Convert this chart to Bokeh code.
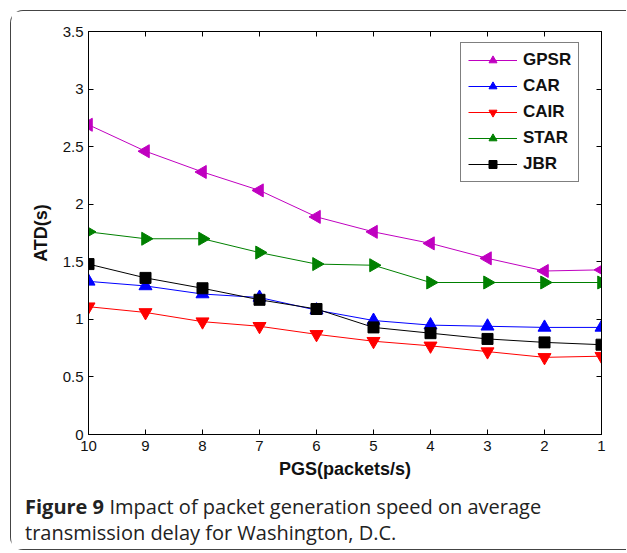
import math
from bokeh.plotting import figure
from bokeh.layouts import column
from bokeh.models import (Range1d, FixedTicker, LinearAxis, Legend, LegendItem, Label,
                          CustomJSTickFormatter)
from bokeh.embed import file_html
from bokeh.resources import INLINE

pgs = [10, 9, 8, 7, 6, 5, 4, 3, 2, 1]
gpsr = [2.69, 2.46, 2.28, 2.12, 1.89, 1.76, 1.66, 1.53, 1.42, 1.43]
car = [1.33, 1.29, 1.22, 1.19, 1.08, 0.99, 0.95, 0.94, 0.93, 0.93]
cair = [1.11, 1.06, 0.98, 0.94, 0.87, 0.81, 0.77, 0.72, 0.67, 0.68]
star = [1.76, 1.70, 1.70, 1.58, 1.48, 1.47, 1.32, 1.32, 1.32, 1.32]
jbr = [1.48, 1.36, 1.27, 1.17, 1.09, 0.93, 0.88, 0.83, 0.80, 0.78]

x_ticks = [10, 9, 8, 7, 6, 5, 4, 3, 2, 1]
y_ticks = [0, 0.5, 1, 1.5, 2, 2.5, 3, 3.5]
y_tick_labels = ["0", "0.5", "1", "1.5", "2", "2.5", "3", "3.5"]
caption_bold = "Figure 9"
caption_line1 = "Impact of packet generation speed on average"
caption_line2 = "transmission delay for Washington, D.C."

p = figure(width=615, height=470, output_backend="svg", toolbar_location=None,
           x_range=Range1d(10, 1), y_range=Range1d(0, 3.5),
           min_border_left=77, min_border_right=25, min_border_top=20, min_border_bottom=47)
p.frame_align = False
p.xgrid.visible = False
p.ygrid.visible = False
p.outline_line_color = "black"
p.outline_line_width = 1

FONT = "Liberation Sans"

def style_axis(ax, labels=True):
    ax.axis_line_color = "black"
    ax.major_tick_line_color = "black"
    ax.major_tick_in = 5
    ax.major_tick_out = 0
    ax.minor_tick_line_color = None
    ax.major_label_text_font = FONT
    ax.major_label_text_font_size = "15px"
    ax.major_label_text_color = "#111111"
    ax.axis_label_text_font = FONT
    ax.axis_label_text_font_size = "18px"
    ax.axis_label_text_font_style = "bold"
    ax.axis_label_text_color = "#111111"
    if not labels:
        ax.formatter = CustomJSTickFormatter(code="return ''")
        ax.major_label_standoff = 0

xa = p.xaxis[0]
xa.ticker = FixedTicker(ticks=x_ticks)
xa.axis_label = "PGS(packets/s)"
style_axis(xa)
xa.major_label_standoff = 6
xa.axis_label_standoff = 5

ya = p.yaxis[0]
ya.ticker = FixedTicker(ticks=y_ticks)
ya.major_label_overrides = {t: l for t, l in zip(y_ticks, y_tick_labels)}
ya.axis_label = "ATD(s)"
style_axis(ya)
ya.major_label_standoff = 5
ya.axis_label_standoff = 9

top = LinearAxis(ticker=FixedTicker(ticks=x_ticks))
style_axis(top, labels=False)
p.add_layout(top, "above")
right = LinearAxis(ticker=FixedTicker(ticks=y_ticks))
style_axis(right, labels=False)
p.add_layout(right, "right")

series = [
    ("GPSR", gpsr, "#c000c0", "triangle", math.pi / 2),
    ("CAR", car, "#0000ff", "triangle", 0),
    ("CAIR", cair, "#ff0000", "inverted_triangle", 0),
    ("STAR", star, "#008000", "triangle", -math.pi / 2),
    ("JBR", jbr, "#000000", "square", 0),
]
items = []
for name, ys, col, mk, ang in series:
    l = p.line(pgs, ys, line_color=col, line_width=1)
    size = 11 if mk == "square" else 13
    m = p.scatter(pgs, ys, marker=mk, size=size, angle=ang, fill_color=col, line_color=col)
    items.append(LegendItem(label=name, renderers=[l, m]))

legend = Legend(items=items, location=(372, 252))
legend.label_text_font = FONT
legend.label_text_font_size = "17px"
legend.label_text_font_style = "bold"
legend.label_text_color = "#111111"
legend.glyph_width = 49
legend.glyph_height = 20
legend.label_height = 20
legend.spacing = 6
legend.padding = 7
legend.label_standoff = 6
legend.border_line_color = "black"
legend.border_line_width = 1
legend.background_fill_color = "white"
legend.background_fill_alpha = 1
p.add_layout(legend, "center")

# caption panel
cap = figure(width=615, height=68, output_backend="svg", toolbar_location=None,
             x_range=Range1d(0, 615), y_range=Range1d(68, 0),
             x_axis_type=None, y_axis_type=None,
             min_border_left=0, min_border_right=0, min_border_top=0, min_border_bottom=0)
cap.frame_align = False
cap.xgrid.visible = False
cap.ygrid.visible = False
cap.outline_line_color = None

CAP = "Open Sans"
cap.add_layout(Label(x=13.5, y=24.5, text=caption_bold,
                     text_font=CAP, text_font_size="20px", text_font_style="bold",
                     text_color="#222222", text_baseline="middle"))
cap.add_layout(Label(x=98, y=24.5, text=caption_line1,
                     text_font=CAP, text_font_size="20px",
                     text_color="#222222", text_baseline="middle"))
cap.add_layout(Label(x=13.5, y=51, text=caption_line2,
                     text_font=CAP, text_font_size="20px",
                     text_color="#222222", text_baseline="middle"))

BORDER = "1.5px solid #444444"
layout = column(p, cap, spacing=0, margin=(10, 0, 0, 10),
                styles={"border-top": BORDER, "border-left": BORDER, "border-bottom": BORDER,
                        "border-radius": "13px 0 0 13px"})

open("out.html", "w").write(file_html(layout, INLINE))
